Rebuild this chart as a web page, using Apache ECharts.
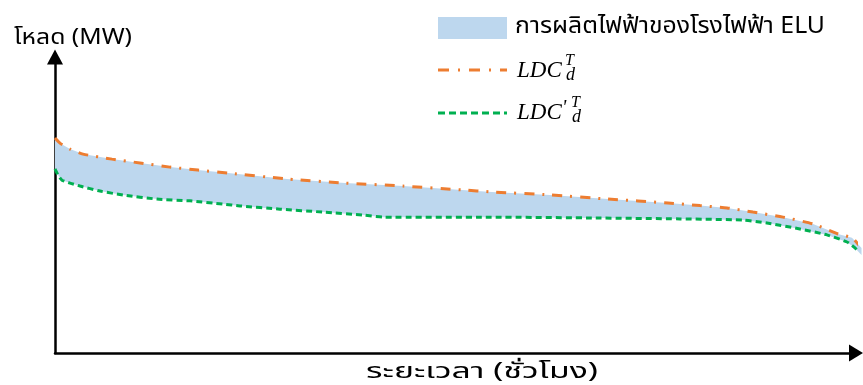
<!DOCTYPE html>
<html>
<head>
<meta charset="utf-8">
<script src="https://cdn.jsdelivr.net/npm/echarts@6/dist/echarts.min.js"></script>
<style>html,body{margin:0;padding:0;background:#fff;}#c{width:863px;height:385px;}</style>
</head>
<body>
<div id="c"></div>
<script>
// Load duration curves (hours sorted, load in relative MW units)
const ldcHours = [0, 54, 163, 304, 619, 923, 1249, 1553, 1879, 2520, 3150, 3780, 4420, 4746, 5376, 6006, 6658, 7005, 7299, 7581, 7907, 8233, 8504, 8656, 8743, 8760];
const ldcLoad  = [72.6, 70.9, 68.9, 67.2, 65.5, 64.2, 62.8, 61.8, 60.8, 58.8, 57.4, 56.4, 55.1, 54.4, 53.4, 52.0, 50.7, 49.8, 49.0, 47.6, 45.9, 43.6, 40.2, 38.9, 36.1, 35.5];
const ldcPrimeHours = [0, 33, 76, 163, 272, 489, 739, 1108, 1466, 1825, 2009, 2444, 2911, 3345, 3562, 4725, 5919, 6788, 7472, 7733, 8091, 8385, 8602, 8689, 8760];
const ldcPrimeLoad  = [62.2, 60.1, 58.4, 57.4, 56.4, 54.7, 53.4, 52.0, 51.4, 50.3, 49.7, 48.6, 47.6, 46.6, 45.9, 45.9, 45.6, 45.3, 44.9, 43.9, 41.9, 39.9, 37.5, 35.5, 33.1];
const fillName = 'การผลิตไฟฟ้าของโรงไฟฟ้า ELU';
const yAxisTitle = 'โหลด (MW)';
const xAxisTitle = 'ระยะเวลา (ชั่วโมง)';

const chart = echarts.init(document.getElementById('c'));
const ldcPts = ldcHours.map((h, i) => [h, ldcLoad[i]]);
const ldcPrimePts = ldcPrimeHours.map((h, i) => [h, ldcPrimeLoad[i]]);
const thaiFont = '"Noto Sans", "Noto Sans Thai", Tahoma, sans-serif';
const mathFont = '"Liberation Serif", "DejaVu Serif", serif';

// Stretch a text horizontally to span a target width (the reference uses a wider Thai face)
const mctx = document.createElement('canvas').getContext('2d');
function fitText(text, font, x, y, targetW) {
  mctx.font = font;
  const w = mctx.measureText(text).width;
  return {
    type: 'text', x: x, y: y, scaleX: targetW / w, scaleY: 1,
    style: {text: text, font: font, fill: '#000', textAlign: 'left', textVerticalAlign: 'middle'}
  };
}

chart.setOption({
  animation: false,
  backgroundColor: '#fff',
  grid: {left: 55, right: 7, top: 57, bottom: 32, outerBoundsMode: 'none', containLabel: false},
  xAxis: {
    type: 'value', min: 0, max: 8700,
    axisLine: {show: true, symbol: ['none', 'triangle'], symbolSize: [17, 14], lineStyle: {color: '#000', width: 2.5}},
    axisTick: {show: false}, axisLabel: {show: false}, splitLine: {show: false}
  },
  yAxis: {
    type: 'value', min: 0, max: 100,
    axisLine: {show: true, symbol: ['none', 'triangle'], symbolSize: [16, 15], lineStyle: {color: '#000', width: 2.5}},
    axisTick: {show: false}, axisLabel: {show: false}, splitLine: {show: false}
  },
  graphic: [
    fitText(yAxisTitle, '21px ' + thaiFont, 14, 38, 118),
    fitText(xAxisTitle, '22px ' + thaiFont, 366, 372, 232),
    {type: 'rect', left: 438, top: 17, shape: {width: 69, height: 22}, style: {fill: '#BDD7EE'}},
    fitText(fillName, '23px ' + thaiFont, 515, 26, 310),
    {type: 'line', shape: {x1: 438, y1: 70, x2: 507, y2: 70}, style: {stroke: '#ED7D31', lineWidth: 3, lineDash: [11, 9, 2, 9]}},
    {type: 'text', left: 517, top: 59, style: {text: 'LDC', font: 'italic 23px ' + mathFont, fill: '#000'}},
    {type: 'text', left: 565, top: 53, style: {text: 'T', font: 'italic 16px ' + mathFont, fill: '#000'}},
    {type: 'text', left: 566, top: 66, style: {text: 'd', font: 'italic 18px ' + mathFont, fill: '#000'}},
    {type: 'line', shape: {x1: 438, y1: 113, x2: 507, y2: 113}, style: {stroke: '#00B050', lineWidth: 3, lineDash: [7, 4]}},
    {type: 'text', left: 517, top: 101, style: {text: 'LDC', font: 'italic 23px ' + mathFont, fill: '#000'}},
    {type: 'text', left: 562, top: 99, style: {text: "'", font: 'italic 20px ' + mathFont, fill: '#000'}},
    {type: 'text', left: 571, top: 95, style: {text: 'T', font: 'italic 16px ' + mathFont, fill: '#000'}},
    {type: 'text', left: 572, top: 108, style: {text: 'd', font: 'italic 18px ' + mathFont, fill: '#000'}}
  ],
  series: [
    {
      type: 'custom', name: fillName, clip: false, silent: true, z: 1,
      data: [[0, 0]],
      renderItem: function (params, api) {
        const pts = [];
        ldcPts.forEach(p => pts.push(api.coord(p)));
        for (let i = ldcPrimePts.length - 1; i >= 0; i--) pts.push(api.coord(ldcPrimePts[i]));
        return {type: 'polygon', shape: {points: pts, smooth: 0}, style: {fill: '#BDD7EE'}};
      }
    },
    {
      type: 'line', name: 'LDC_d^T', data: ldcPts, showSymbol: false, clip: false, smooth: 0.2, z: 3,
      lineStyle: {color: '#ED7D31', width: 3, type: [10, 8, 2, 8]}
    },
    {
      type: 'line', name: "LDC'_d^T", data: ldcPrimePts, showSymbol: false, clip: false, smooth: 0.2, z: 3,
      lineStyle: {color: '#00B050', width: 3, type: [6, 4]}
    }
  ]
});
</script>
</body>
</html>
